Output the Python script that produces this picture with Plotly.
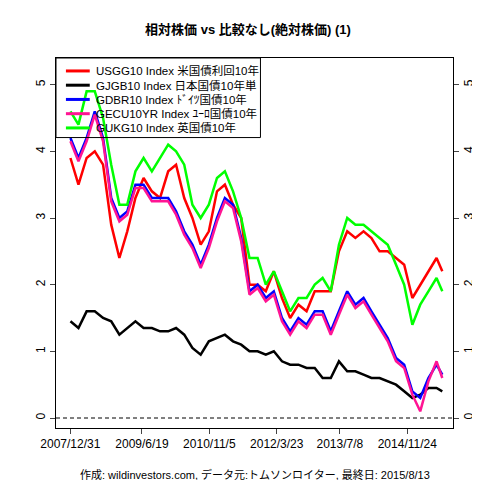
import pandas as pd
import plotly.graph_objects as go

dates = list(pd.date_range("2008-01-01", "2015-07-01", freq="2MS")) + [pd.Timestamp("2015-08-13")]

usgg = [3.9, 3.5, 3.9, 4.0, 3.8, 2.9,
        2.4, 2.8, 3.3, 3.6, 3.4, 3.3,
        3.7, 3.8, 3.3, 3.0, 2.6, 2.8,
        3.4, 3.5, 3.2, 3.0, 2.0, 2.0,
        1.9, 2.2, 1.8, 1.5, 1.7, 1.6,
        1.9, 1.9, 1.9, 2.5, 2.8, 2.7,
        2.8, 2.7, 2.5, 2.5, 2.4, 2.3,
        1.8, 2.0, 2.2, 2.4, 2.2]
gjgb = [1.45, 1.35, 1.6, 1.6, 1.5, 1.45,
        1.25, 1.35, 1.45, 1.35, 1.35, 1.3,
        1.3, 1.35, 1.25, 1.05, 0.95, 1.15,
        1.2, 1.25, 1.15, 1.1, 1.0, 1.0,
        0.95, 1.0, 0.85, 0.8, 0.8, 0.75,
        0.75, 0.6, 0.6, 0.85, 0.7, 0.7,
        0.65, 0.6, 0.6, 0.55, 0.5, 0.4,
        0.3, 0.35, 0.45, 0.45, 0.4]
gdbr = [4.2, 3.9, 4.2, 4.6, 4.2, 3.3,
        3.0, 3.1, 3.5, 3.5, 3.3, 3.3,
        3.3, 3.1, 2.8, 2.6, 2.3, 2.6,
        3.0, 3.3, 3.2, 2.7, 1.9, 2.0,
        1.8, 1.9, 1.5, 1.3, 1.5, 1.4,
        1.6, 1.6, 1.3, 1.6, 1.9, 1.7,
        1.8, 1.6, 1.4, 1.2, 0.9, 0.8,
        0.4, 0.3, 0.6, 0.8, 0.65]
gecu = [4.15, 3.85, 4.15, 4.55, 4.15, 3.25,
        2.95, 3.05, 3.45, 3.45, 3.25, 3.25,
        3.25, 3.05, 2.75, 2.55, 2.25, 2.55,
        2.95, 3.25, 3.15, 2.65, 1.85, 1.95,
        1.75, 1.85, 1.45, 1.25, 1.45, 1.35,
        1.55, 1.55, 1.25, 1.55, 1.85, 1.65,
        1.75, 1.55, 1.35, 1.15, 0.85, 0.75,
        0.35, 0.1, 0.55, 0.85, 0.6]
gukg = [4.6, 4.4, 4.9, 4.9, 4.5, 3.8,
        3.2, 3.2, 3.7, 3.9, 3.7, 3.9,
        4.1, 4.0, 3.8, 3.2, 3.0, 3.2,
        3.6, 3.7, 3.4, 3.0, 2.4, 2.4,
        2.0, 2.2, 1.9, 1.6, 1.8, 1.8,
        2.0, 2.1, 1.9, 2.6, 3.0, 2.9,
        2.9, 2.8, 2.7, 2.6, 2.3, 2.0,
        1.4, 1.7, 1.9, 2.1, 1.9]

names = ["USGG10 Index 米国債利回10年", "GJGB10 Index 日本国債10年単",
         "GDBR10 Index ﾄﾞｲﾂ国債10年", "GECU10YR Index ﾕｰﾛ国債10年", "GUKG10 Index 英国債10年"]
colors = ["#ff0000", "#000000", "#0000ff", "#ff1493", "#00ff00"]
series = [usgg, gjgb, gdbr, gecu, gukg]

tick_dates = ["2007-12-31", "2009-06-19", "2010-11-05", "2012-03-23", "2013-07-08", "2014-11-24"]
tick_text = ["2007/12/31", "2009/6/19", "2010/11/5", "2012/3/23", "2013/7/8", "2014/11/24"]

fig = go.Figure()
for i in range(len(series)):
    fig.add_trace(go.Scatter(x=dates, y=series[i], mode="lines", name=names[i],
                             line=dict(color=colors[i], width=2.5), showlegend=False))
# invisible trace to show right-hand axis
fig.add_trace(go.Scatter(x=dates[:1], y=[0], yaxis="y2", mode="markers",
                         marker=dict(opacity=0), showlegend=False, hoverinfo="skip"))

fig.add_hline(y=0, line=dict(color="black", width=1, dash="4px,3px"))

# hand-made legend (R style, tight rows, transparent box)
fig.add_shape(type="rect", xref="paper", yref="paper", x0=0, x1=0.515, y0=0.785, y1=1,
              line=dict(color="black", width=1))
for k, (nm, col) in enumerate(zip(names, colors)):
    yy = 0.965 - k * 0.0385
    fig.add_shape(type="line", xref="paper", yref="paper", x0=0.025, x1=0.085, y0=yy, y1=yy,
                  line=dict(color=col, width=3))
    fig.add_annotation(text=nm, xref="paper", yref="paper", x=0.095, y=yy, xanchor="left",
                       yanchor="middle", showarrow=False, font=dict(size=11.5))

axis_font = dict(size=12, family="Liberation Sans")
fig.update_layout(
    width=480, height=480, plot_bgcolor="white", paper_bgcolor="white",
    margin=dict(l=48, r=25, t=50, b=60),
    font=dict(family="Liberation Sans, Noto Sans CJK JP", size=11, color="black"),
    title=dict(text="<b>相対株価 vs 比較なし(絶対株価) (1)</b>", x=0.5, y=0.965, font=dict(size=13)),
    xaxis=dict(range=["2007-09-15", "2015-11-01"], tickvals=tick_dates, ticktext=tick_text,
               showgrid=False, showline=True, linecolor="black", mirror=True,
               ticks="outside", ticklen=5, tickfont=axis_font),
    yaxis=dict(range=[-0.15, 5.4], tickvals=[0, 1, 2, 3, 4, 5], showgrid=False, zeroline=False,
               showline=True, linecolor="black", mirror=True, ticks="outside", ticklen=5,
               tickangle=-90, tickfont=axis_font),
    yaxis2=dict(range=[-0.15, 5.4], tickvals=[0, 1, 2, 3, 4, 5], overlaying="y", side="right",
                showgrid=False, zeroline=False, ticks="outside", ticklen=5,
                tickangle=-90, tickfont=axis_font),
)
fig.add_annotation(text="作成: wildinvestors.com, データ元:トムソンロイター, 最終日: 2015/8/13",
                   xref="paper", yref="paper", x=0.5, y=-0.15, showarrow=False,
                   font=dict(size=11))
fig.write_html("out.html")
